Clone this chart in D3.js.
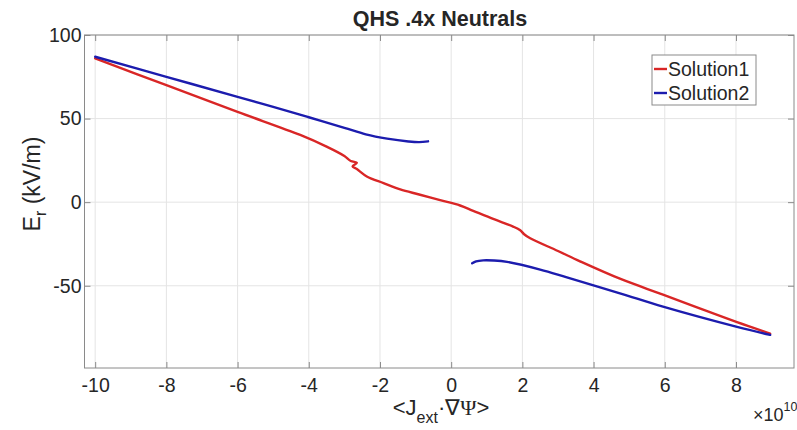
<!DOCTYPE html>
<html>
<head>
<meta charset="utf-8">
<script src="https://cdn.jsdelivr.net/npm/d3@7"></script>
<style>
  body { margin: 0; background: #fff; }
  text { font-family: "Liberation Sans", Arial, Helvetica, sans-serif; fill: #262626; }
</style>
</head>
<body>
<svg id="chart" width="797" height="430"></svg>
<script>
// Tick values
const xTicks = [-10, -8, -6, -4, -2, 0, 2, 4, 6, 8];
const yTicks = [-50, 0, 50, 100];

// Solution1: single continuous branch (x in units of 1e10)
const sol1X = [-10, -8, -6, -4.24, -3.5, -3.0, -2.82, -2.65, -2.77, -2.65, -2.37, -1.9, -1.43, -0.9, -0.31, 0.25, 0.62, 1.2, 1.74, 1.94, 2.05, 2.22, 3.0, 3.62, 4.74, 5.95, 7.0, 8.03, 8.96];
const sol1Y = [86, 70, 54, 40.2, 33.2, 27.6, 24.6, 23.6, 21.4, 19.8, 15.4, 11.4, 7.6, 4.6, 1.2, -2.0, -5.2, -10.2, -14.6, -16.8, -19.2, -21.6, -29.2, -35.4, -45.8, -55.3, -63.7, -71.8, -78.6];

// Solution2: upper branch
const sol2aX = [-10, -8, -6, -5, -4, -3, -2.4, -1.8, -1.2, -0.9, -0.65];
const sol2aY = [87, 75, 63, 57, 50.8, 44.5, 40.6, 38, 36.3, 35.9, 36.4];
// Solution2: lower branch
const sol2bX = [0.59, 0.7, 0.9, 1.2, 1.57, 2.5, 3.25, 4.74, 5.95, 8.03, 8.96];
const sol2bY = [-36.6, -35.4, -34.8, -34.9, -35.7, -40.3, -45, -54.5, -62.5, -74.6, -79.4];

const seriesNames = ["Solution1", "Solution2"];
const seriesColors = ["#d92626", "#1c1cae"];

const svg = d3.select("#chart");
const plot = { left: 84.5, right: 794, top: 35, bottom: 368 };

const x = d3.scaleLinear().domain([-10.3, 9.63]).range([plot.left, plot.right]);
const y = d3.scaleLinear().domain([-99.2, 100]).range([plot.bottom, plot.top]);

// Grid
const grid = svg.append("g").attr("stroke", "#e4e4e4").attr("stroke-width", 1);
grid.selectAll("line.gx").data(xTicks).join("line")
  .attr("x1", d => x(d)).attr("x2", d => x(d))
  .attr("y1", plot.top).attr("y2", plot.bottom);
grid.selectAll("line.gy").data(yTicks).join("line")
  .attr("x1", plot.left).attr("x2", plot.right)
  .attr("y1", d => y(d)).attr("y2", d => y(d));

// Axes with inward ticks
const axisColor = "#8a8a8a";
const plain = d => String(d);
function styleAxis(g) {
  g.select(".domain").remove();
  g.selectAll(".tick line").attr("stroke", axisColor);
  g.selectAll(".tick text").attr("fill", "#262626").style("font-size", "19.5px")
    .style("font-family", '"Liberation Sans", Arial, sans-serif');
}
svg.append("g").attr("transform", `translate(0,${plot.bottom})`)
  .call(d3.axisBottom(x).tickValues(xTicks).tickSizeInner(-6).tickSizeOuter(0).tickPadding(10).tickFormat(plain))
  .call(styleAxis);
svg.append("g").attr("transform", `translate(0,${plot.top})`)
  .call(d3.axisTop(x).tickValues(xTicks).tickSizeInner(-6).tickSizeOuter(0).tickFormat(""))
  .call(styleAxis);
svg.append("g").attr("transform", `translate(${plot.left},0)`)
  .call(d3.axisLeft(y).tickValues(yTicks).tickSizeInner(-6).tickSizeOuter(0).tickPadding(3).tickFormat(plain))
  .call(styleAxis);
svg.append("g").attr("transform", `translate(${plot.right},0)`)
  .call(d3.axisRight(y).tickValues(yTicks).tickSizeInner(-6).tickSizeOuter(0).tickFormat(""))
  .call(styleAxis);

// Box
svg.append("rect")
  .attr("x", plot.left).attr("y", plot.top)
  .attr("width", plot.right - plot.left).attr("height", plot.bottom - plot.top)
  .attr("fill", "none").attr("stroke", axisColor).attr("stroke-width", 1);

// Curves
const line = d3.line().x(d => x(d[0])).y(d => y(d[1])).curve(d3.curveCatmullRom.alpha(0.5));
const zip = (xs, ys) => xs.map((v, i) => [v, ys[i]]);
svg.append("clipPath").attr("id", "clip").append("rect")
  .attr("x", plot.left).attr("y", plot.top)
  .attr("width", plot.right - plot.left).attr("height", plot.bottom - plot.top);
const curves = svg.append("g").attr("clip-path", "url(#clip)")
  .attr("fill", "none").attr("stroke-width", 2.4).attr("stroke-linejoin", "round").attr("stroke-linecap", "round");
curves.append("path").attr("d", line(zip(sol1X, sol1Y))).attr("stroke", seriesColors[0]);
curves.append("path").attr("d", line(zip(sol2aX, sol2aY))).attr("stroke", seriesColors[1]);
curves.append("path").attr("d", line(zip(sol2bX, sol2bY))).attr("stroke", seriesColors[1]);

// Title
svg.append("text").attr("x", 440).attr("y", 26).attr("text-anchor", "middle")
  .style("font-size", "21.5px").style("font-weight", "bold").attr("fill", "#000")
  .text("QHS .4x Neutrals");

// Y label
const yl = svg.append("text").attr("transform", "translate(40,184) rotate(-90)")
  .attr("text-anchor", "middle").style("font-size", "23px");
yl.append("tspan").text("E");
yl.append("tspan").attr("dy", 6).style("font-size", "16px").text("r");
yl.append("tspan").attr("dy", -6).text(" (kV/m)");

// X label
const xl = svg.append("text").attr("x", 441).attr("y", 415).attr("text-anchor", "middle")
  .style("font-size", "22px");
xl.append("tspan").text("<J");
xl.append("tspan").attr("dy", 8).style("font-size", "16px").text("ext");
xl.append("tspan").attr("dy", -8).text("·");
xl.append("tspan").style("font-family", '"Liberation Serif", "Times New Roman", serif').text("∇Ψ");
xl.append("tspan").text(">");

// Exponent
const ex = svg.append("text").attr("x", 753).attr("y", 421).style("font-size", "18px");
ex.append("tspan").text("×10");
ex.append("tspan").attr("dy", -10).style("font-size", "12.5px").text("10");

// Legend
const lg = svg.append("g");
lg.append("rect").attr("x", 652).attr("y", 55).attr("width", 104).attr("height", 50)
  .attr("fill", "#fff").attr("stroke", axisColor).attr("stroke-width", 1);
seriesNames.forEach((name, i) => {
  const cy = 69 + i * 24;
  lg.append("line").attr("x1", 654).attr("x2", 667).attr("y1", cy).attr("y2", cy)
    .attr("stroke", seriesColors[i]).attr("stroke-width", 2.4);
  lg.append("text").attr("x", 668).attr("y", cy + 7).style("font-size", "19.5px").text(name);
});
</script>
</body>
</html>
